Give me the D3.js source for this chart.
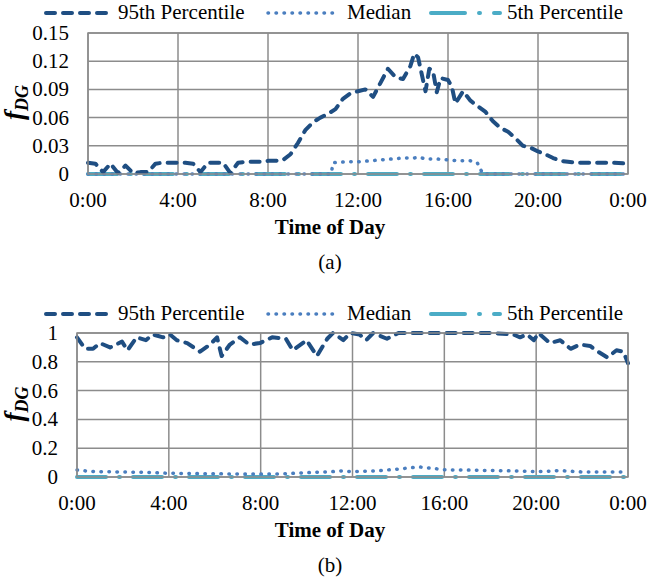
<!DOCTYPE html>
<html>
<head>
<meta charset="utf-8">
<script src="https://cdn.jsdelivr.net/npm/d3@7"></script>
<style>
  body { margin: 0; background: #fff; }
</style>
</head>
<body>
<div id="chart"></div>
<script>
// ---- data (hours of day, f_DG values) ----
var hourTicks = [0, 4, 8, 12, 16, 20, 24];
var hourLabels = ["0:00", "4:00", "8:00", "12:00", "16:00", "20:00", "0:00"];
var legendNames = ["95th Percentile", "Median", "5th Percentile"];

// panel (a)
var yTicksA = [0, 0.03, 0.06, 0.09, 0.12, 0.15];
var yLabelsA = ["0", "0.03", "0.06", "0.09", "0.12", "0.15"];
var timeA95 = [0, 0.33, 0.67, 1, 1.33, 1.67, 2, 2.33, 2.67, 3, 3.33, 3.67, 4, 4.33, 4.67, 5, 5.33, 5.67, 6, 6.33, 6.67,
  7, 7.33, 7.67, 8, 8.33, 8.67, 9, 9.33, 9.67, 10, 10.33, 10.67, 11, 11.33, 11.67, 12, 12.33, 12.67, 13, 13.33, 13.67,
  14, 14.33, 14.5, 14.67, 15, 15.17, 15.33, 15.5, 15.67, 16, 16.17, 16.33, 16.67, 17, 17.33, 17.67, 18, 18.33, 18.67,
  19, 19.33, 19.67, 20, 20.33, 20.67, 21, 21.33, 21.67, 22, 22.67, 23.33, 24];
var valA95 = [0.012, 0.011, 0.002, 0.011, 0.001, 0.009, 0.001, 0.002, 0.002, 0.011, 0.012, 0.012, 0.012, 0.012, 0.011,
  0.002, 0.012, 0.012, 0.012, 0.001, 0.012, 0.013, 0.013, 0.013, 0.014, 0.014, 0.015, 0.021, 0.033, 0.047, 0.055, 0.060,
  0.064, 0.069, 0.080, 0.086, 0.088, 0.090, 0.082, 0.097, 0.112, 0.103, 0.101, 0.115, 0.128, 0.124, 0.088, 0.112, 0.110,
  0.087, 0.102, 0.100, 0.093, 0.075, 0.088, 0.078, 0.072, 0.066, 0.056, 0.049, 0.045, 0.038, 0.030, 0.028, 0.024, 0.021,
  0.017, 0.014, 0.013, 0.012, 0.012, 0.012, 0.012, 0.011];
var timeAMed = [0, 10.8, 10.9, 11.5, 12, 12.5, 13, 13.5, 14, 14.5, 14.7, 15, 15.5, 16, 16.5, 17, 17.3, 17.55, 24];
var valAMed = [0, 0, 0.012, 0.013, 0.013, 0.014, 0.015, 0.016, 0.017, 0.017, 0.018, 0.016, 0.016, 0.015, 0.014, 0.014, 0.012, 0, 0];
var timeA5 = [0, 24];
var valA5 = [0, 0];

// panel (b)
var yTicksB = [0, 0.2, 0.4, 0.6, 0.8, 1];
var yLabelsB = ["0", "0.2", "0.4", "0.6", "0.8", "1"];
var timeB95 = [0, 0.35, 0.7, 1, 1.44, 1.96, 2.2, 2.6, 3, 3.3, 3.75, 4.05, 4.35, 4.8, 5.36, 5.8, 6.1, 6.3, 6.66, 7.1,
  7.5, 7.97, 8.5, 9.1, 9.4, 10, 10.45, 10.9, 11.15, 11.6, 11.9, 12.3, 12.6, 12.9, 13.5, 14, 15, 16, 17, 18, 19, 19.3,
  19.6, 19.9, 20.1, 20.6, 21.05, 21.5, 21.9, 22.35, 22.6, 23.1, 23.5, 23.8, 24];
var valB95 = [0.97, 0.89, 0.89, 0.93, 0.90, 0.94, 0.88, 0.97, 0.95, 0.99, 0.97, 0.99, 0.95, 0.93, 0.87, 0.92, 0.97,
  0.84, 0.92, 0.97, 0.92, 0.93, 0.97, 0.96, 0.88, 0.95, 0.84, 0.96, 1.0, 0.95, 1.0, 0.99, 0.95, 1.0, 0.96, 1.0, 1.0,
  1.0, 1.0, 1.0, 0.99, 0.97, 0.99, 0.95, 1.0, 0.93, 0.95, 0.89, 0.92, 0.91, 0.88, 0.83, 0.88, 0.87, 0.79];
var timeBMed = [0, 0.5, 1, 2, 3, 4, 5, 6, 7, 8, 9, 10, 11, 11.5, 12, 13, 14, 14.9, 15.5, 16, 17, 18, 19, 20, 20.5, 21, 22, 23, 24];
var valBMed = [0.049, 0.04, 0.037, 0.035, 0.032, 0.026, 0.024, 0.022, 0.021, 0.02, 0.022, 0.03, 0.036, 0.042, 0.037,
  0.042, 0.055, 0.07, 0.06, 0.05, 0.048, 0.045, 0.042, 0.037, 0.04, 0.045, 0.035, 0.035, 0.035];
var timeB5 = [0, 24];
var valB5 = [0, 0];

var colors = ["#1f4e82", "#4a7ebf", "#4bacc6"];
var serif = "'Liberation Serif', 'Times New Roman', Times, 'DejaVu Serif', serif";
var fs = "21px";

var svg = d3.select("#chart").append("svg")
  .attr("width", 647)
  .attr("height", 578)
  .attr("font-family", serif);

function drawPanel(p) {
  var x = d3.scaleLinear().domain([0, 24]).range([p.left, 628]);
  var y = d3.scaleLinear().domain([0, p.yMax]).range([p.bottom, p.top]);
  var g = svg.append("g");

  // grid
  g.selectAll(".hgrid").data(p.yTicks).enter().append("line")
    .attr("x1", p.left).attr("x2", 628)
    .attr("y1", function(d) { return y(d); }).attr("y2", function(d) { return y(d); })
    .style("stroke", "#8c8c8c").style("stroke-width", 1.5);
  g.selectAll(".vgrid").data(hourTicks).enter().append("line")
    .attr("x1", function(d) { return x(d); }).attr("x2", function(d) { return x(d); })
    .attr("y1", p.top).attr("y2", p.bottom)
    .style("stroke", "#8c8c8c").style("stroke-width", 1.5);

  // y tick labels
  g.selectAll(".ylab").data(p.yTicks).enter().append("text")
    .attr("x", p.left - 19)
    .attr("y", function(d) { return y(d) + 7; })
    .style("text-anchor", "end")
    .style("font-family", serif)
    .style("font-size", fs)
    .text(function(d, i) { return p.yLabels[i]; });

  // x tick labels
  g.selectAll(".xlab").data(hourTicks).enter().append("text")
    .attr("x", function(d) { return x(d); })
    .attr("y", p.bottom + 33)
    .style("text-anchor", "middle")
    .style("font-family", serif)
    .style("font-size", fs)
    .text(function(d, i) { return hourLabels[i]; });

  // axis titles
  g.append("text")
    .attr("x", 330).attr("y", p.bottom + 60)
    .style("text-anchor", "middle")
    .style("font-family", serif)
    .style("font-size", fs)
    .style("font-weight", "bold")
    .text("Time of Day");
  g.append("text")
    .attr("x", 330).attr("y", p.bottom + 95)
    .style("text-anchor", "middle")
    .style("font-family", serif)
    .style("font-size", fs)
    .text(p.caption);

  var yt = g.append("text")
    .attr("transform", "translate(23," + ((p.top + p.bottom) / 2 - 1) + ") rotate(-90)")
    .style("text-anchor", "middle")
    .style("font-family", serif)
    .style("font-size", "27px")
    .style("font-style", "italic")
    .style("font-weight", "bold");
  yt.append("tspan").text("f");
  yt.append("tspan").attr("dy", 5).style("font-size", "18px").text("DG");

  var line = d3.line()
    .x(function(d) { return x(d[0]); })
    .y(function(d) { return y(d[1]); });

  var styles = [
    { dash: "9 8", width: 4 },
    { dash: "0.5 7.5", width: 3.5 },
    { dash: "29 13 1 13", width: 4 }
  ];

  // draw 5th first, then median, then 95th on top
  [2, 1, 0].forEach(function(k) {
    var s = p.series[k];
    var pts = s.t.map(function(t, i) { return [t, s.v[i]]; });
    g.append("path")
      .datum(pts)
      .attr("d", line)
      .style("fill", "none")
      .style("stroke", colors[k])
      .style("stroke-width", styles[k].width)
      .style("stroke-dasharray", styles[k].dash)
      .style("stroke-linecap", "round")
      .style("stroke-linejoin", "round");
  });

  // legend
  var ly = p.legendY;
  var items = [
    { x1: 46, x2: 112, tx: 118 },
    { x1: 268, x2: 340, tx: 347 },
    { x1: 431, x2: 500, tx: 507 }
  ];
  items.forEach(function(it, k) {
    g.append("line")
      .attr("x1", it.x1).attr("x2", it.x2)
      .attr("y1", ly - 6).attr("y2", ly - 6)
      .style("stroke", colors[k])
      .style("stroke-width", styles[k].width)
      .style("stroke-dasharray", k === 2 ? "34 14 1 14" : styles[k].dash)
      .style("stroke-linecap", "round");
    g.append("text")
      .attr("x", it.tx).attr("y", ly)
      .style("font-family", serif)
      .style("font-size", fs)
      .text(legendNames[k]);
  });

  // plot border
  g.append("rect")
    .attr("x", p.left).attr("y", p.top)
    .attr("width", 628 - p.left).attr("height", p.bottom - p.top)
    .style("fill", "none")
    .style("stroke", "#8c8c8c")
    .style("stroke-width", 1.5);
}

drawPanel({
  left: 88, top: 33, bottom: 174, yMax: 0.15, legendY: 19, caption: "(a)",
  yTicks: yTicksA, yLabels: yLabelsA,
  series: [{ t: timeA95, v: valA95 }, { t: timeAMed, v: valAMed }, { t: timeA5, v: valA5 }]
});
drawPanel({
  left: 77, top: 333, bottom: 477, yMax: 1, legendY: 320, caption: "(b)",
  yTicks: yTicksB, yLabels: yLabelsB,
  series: [{ t: timeB95, v: valB95 }, { t: timeBMed, v: valBMed }, { t: timeB5, v: valB5 }]
});
</script>
</body>
</html>
